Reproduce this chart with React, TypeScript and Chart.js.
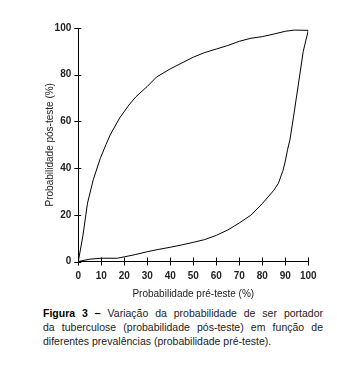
import React, { useEffect, useRef } from "react";
import { Chart, registerables } from "chart.js";

Chart.register(...registerables);

const xTicks = [0, 10, 20, 30, 40, 50, 60, 70, 80, 90, 100];
const yTicks = [0, 20, 40, 60, 80, 100];

const upperX = [0, 2, 4, 6.5, 9.5, 12, 14, 16, 18, 22, 25, 30, 34, 40, 45, 50, 55, 60, 65, 70, 75, 80, 85, 90, 94, 100];
const upperY = [0, 11, 25, 35, 44, 50, 54.5, 58, 61.5, 67, 70.5, 75, 79, 82.5, 85, 87.5, 89.5, 91, 92.5, 94.3, 95.6, 96.3, 97.4, 98.6, 99.1, 99];

const lowerX = [0, 5, 10, 17, 20, 25, 30, 35, 40, 45, 50, 55, 60, 65, 70, 75, 80, 85, 87, 89, 90, 91, 92, 93.5, 95.7, 97.8, 100];
const lowerY = [0, 1, 1.4, 1.4, 2, 3, 4.2, 5.2, 6.1, 7.1, 8.2, 9.4, 11.2, 13.5, 16.5, 19.8, 24.8, 30.5, 33.5, 39, 43, 48, 52, 61.5, 76, 90, 99];

const xTitle = "Probabilidade pré-teste (%)";
const yTitle = "Probabilidade pós-teste (%)";
const captionBold = "Figura 3 –";
const captionLines = [
  " Variação da probabilidade de ser portador",
  "da tuberculose (probabilidade pós-teste) em função de",
  "diferentes prevalências (probabilidade pré-teste).",
];

const tickMarks = {
  id: "tickMarks",
  afterDraw(chart: any) {
    const { ctx, chartArea, scales } = chart;
    ctx.save();
    ctx.strokeStyle = "#000";
    ctx.lineWidth = 1;
    ctx.beginPath();
    xTicks.forEach((v) => {
      const px = Math.round(scales.x.getPixelForValue(v)) + 0.5;
      ctx.moveTo(px, chartArea.bottom - 4);
      ctx.lineTo(px, chartArea.bottom + 4);
    });
    yTicks.forEach((v) => {
      const py = Math.round(scales.y.getPixelForValue(v)) + 0.5;
      ctx.moveTo(chartArea.left - 4, py);
      ctx.lineTo(chartArea.left + 3, py);
    });
    ctx.stroke();
    ctx.restore();
  },
};

export default function App() {
  const ref = useRef<HTMLCanvasElement | null>(null);
  useEffect(() => {
    if (!ref.current) return;
    const tickFont = { family: "'Liberation Sans', Arial, sans-serif", size: 10, weight: "bold" as const };
    const titleFont = { family: "'Liberation Sans', Arial, sans-serif", size: 10 };
    const chart = new Chart(ref.current, {
      type: "line",
      data: {
        datasets: [
          {
            label: "upper",
            data: upperX.map((x, i) => ({ x, y: upperY[i] })),
            borderColor: "#000",
            borderWidth: 1,
            pointRadius: 0,
            tension: 0,
            fill: false,
          },
          {
            label: "lower",
            data: lowerX.map((x, i) => ({ x, y: lowerY[i] })),
            borderColor: "#000",
            borderWidth: 1,
            pointRadius: 0,
            tension: 0,
            fill: false,
          },
        ],
      },
      options: {
        animation: false,
        responsive: false,
        maintainAspectRatio: false,
        layout: { padding: { left: 0, top: 28, right: 28.7, bottom: 0 } },
        plugins: { legend: { display: false }, tooltip: { enabled: false } },
        scales: {
          x: {
            type: "linear",
            min: 0,
            max: 100,
            grid: { display: false, drawTicks: false },
            border: { display: true, color: "#000", width: 1 },
            ticks: { stepSize: 10, padding: 9, color: "#222", font: tickFont, maxRotation: 0 },
            title: { display: true, text: xTitle, color: "#222", font: titleFont, padding: { top: 0, bottom: 0 } },
            afterFit: (s: any) => { s.height = 38.5; },
          },
          y: {
            type: "linear",
            min: 0,
            max: 100,
            grid: { display: false, drawTicks: false },
            border: { display: true, color: "#000", width: 1 },
            ticks: { stepSize: 20, padding: 7, color: "#222", font: tickFont },
            title: { display: true, text: yTitle, color: "#222", font: titleFont, padding: { top: 44, bottom: 0 } },
            afterFit: (s: any) => { s.width = 78.3; },
          },
        },
      },
      plugins: [tickMarks],
    });
    return () => chart.destroy();
  }, []);

  return (
    <div style={{ position: "absolute", left: 0, top: 0, width: 337, height: 373, background: "#fff" }}>
      <canvas ref={ref} width={337} height={300} style={{ position: "absolute", left: 0, top: 0, width: 337, height: 300 }} />
      <div
        style={{
          position: "absolute",
          left: 43,
          top: 306,
          width: 280,
          fontFamily: "'Liberation Sans', Arial, sans-serif",
          fontSize: 10.5,
          lineHeight: "14px",
          color: "#222",
        }}
      >
        <div style={{ textAlign: "justify", textAlignLast: "justify" as any, whiteSpace: "nowrap" as any }}>
          <b style={{ color: "#000" }}>{captionBold}</b>
          {captionLines[0]}
        </div>
        <div style={{ textAlign: "justify", textAlignLast: "justify" as any }}>{captionLines[1]}</div>
        <div style={{ textAlign: "left" }}>{captionLines[2]}</div>
      </div>
    </div>
  );
}
